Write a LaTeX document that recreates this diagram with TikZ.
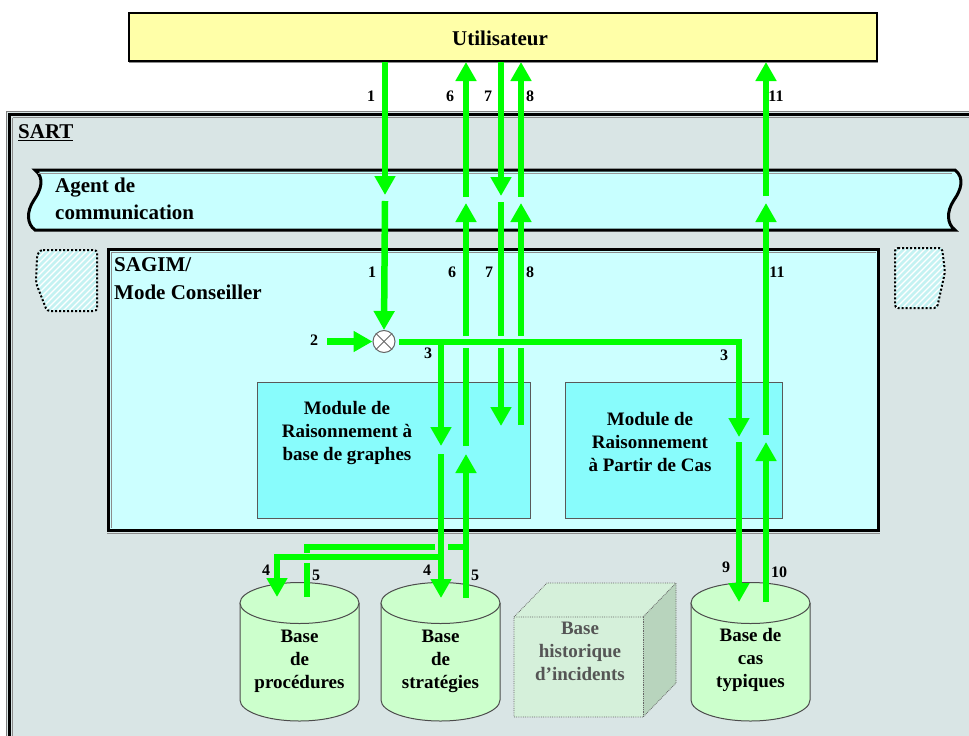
\documentclass[tikz,border=0pt]{standalone}
\usepackage{fontspec}
\setmainfont{Liberation Serif}
\usetikzlibrary{arrows.meta}
\definecolor{userfill}{HTML}{FFFFA8}
\definecolor{sartbg}{HTML}{D9E5E5}
\definecolor{agentbg}{HTML}{C8FFFF}
\definecolor{sagimbg}{HTML}{CCFFFF}
\definecolor{modbg}{HTML}{88FCFC}
\definecolor{cylfill}{HTML}{CCFFCC}
\definecolor{cubefront}{HTML}{D5F0DA}
\definecolor{cubeside}{HTML}{B8D4BD}
\definecolor{cubetext}{HTML}{555555}
\definecolor{flowgreen}{HTML}{00FF00}
\definecolor{hatchbg}{HTML}{C4F2F2}
\tikzset{
  bigtxt/.style={font=\fontsize{21}{24}\selectfont\bfseries, inner sep=0pt},
  modtxt/.style={font=\fontsize{19}{23}\selectfont\bfseries, align=center, inner sep=0pt},
  numtxt/.style={font=\fontsize{16}{18}\selectfont\bfseries, inner sep=0pt},
  flow/.style={draw=flowgreen, line width=6.5pt, line cap=butt},
  flowarrow/.style={flow, -{Triangle[width=20pt,length=19pt]}},
  modbox/.style={draw=black!65, fill=modbg, line width=1pt},
  dottedshape/.style={draw=black, line width=2pt, dash pattern=on 2pt off 2pt},
}
\begin{document}
\begin{tikzpicture}[x=1pt,y=-1pt]
\useasboundingbox (0,0) rectangle (969,736);
\fill[white] (0,0) rectangle (969,736);
\begin{scope}
\clip (0,0) rectangle (969,736);
% SART frame
\fill[sartbg] (6,111) rectangle (990,760);
\draw[black!50, line width=1pt] (6,111) -- (990,111);
\draw[black!50, line width=1pt] (6,111) -- (6,760);
\draw[black, line width=2.5pt] (9.5,114.5) rectangle (990,760);
\draw[black!45, line width=1pt] (12.5,117.5) -- (990,117.5);
\draw[black!45, line width=1pt] (12.5,117.5) -- (12.5,760);
\end{scope}
\node[bigtxt, anchor=west] (sart) at (18,133) {\underline{SART}};

% Utilisateur
\fill[black!45] (129,14) rectangle (878,63);
\node[draw=black, line width=2pt, fill=userfill, minimum width=748pt, minimum height=48pt, anchor=north west, inner sep=0pt] (userbox) at (127.5,12) {};
\node[bigtxt] (user) at (500,38) {Utilisateur};

% Agent de communication banner
\draw[black, line width=3pt, fill=agentbg]
  (35,170) -- (955,170)
  .. controls (965,178) and (961,190) .. (954,200)
  .. controls (946,212) and (947,224) .. (955,230)
  -- (35,230)
  .. controls (27,224) and (26,212) .. (34,200)
  .. controls (41,190) and (45,178) .. (35,170) -- cycle;
\draw[black!40, line width=1pt]
  (38,173.5) -- (952,173.5);
\node[bigtxt, anchor=west] (agent1) at (55,188) {Agent de};
\node[bigtxt, anchor=west] (agent2) at (55,212) {communication};

% dotted hatched shapes
\begin{scope}
\clip (40,250) -- (97,250) -- (97,311) -- (47,311) -- (36,283) -- (37,256) -- cycle;
\fill[hatchbg] (30,240) rectangle (105,320);
\foreach \i in {-60,-54,...,110} \draw[white, line width=1.3pt] (\i,320) -- (\i+80,240);
\end{scope}
\draw[dottedshape, rounded corners=3pt] (40,250) -- (97,250) -- (97,311) -- (47,311) -- (36,283) -- (37,256) -- cycle;
\begin{scope}
\clip (895,248) -- (942,248) -- (945,272) -- (937,308) -- (895,308) -- cycle;
\fill[hatchbg] (890,240) rectangle (950,315);
\foreach \i in {800,806,...,960} \draw[white, line width=1.3pt] (\i,320) -- (\i+80,240);
\end{scope}
\draw[dottedshape, rounded corners=3pt] (895,248) -- (942,248) -- (945,272) -- (937,308) -- (895,308) -- cycle;

% SAGIM box
\draw[black!45, line width=1pt] (107,533.5) -- (880,533.5);
\draw[black, line width=3pt, fill=sagimbg] (108.5,249.5) rectangle (878.5,530.5);
\draw[black!45, line width=1pt] (111,252) -- (876,252);
\draw[black!45, line width=1pt] (111,252) -- (111,528);
\node[bigtxt, anchor=west] (sagim1) at (114,265) {SAGIM/};
\node[bigtxt, anchor=west] (sagim2) at (114,292) {Mode Conseiller};

% Modules
\draw[modbox] (257.5,382.5) rectangle (530.5,518.5);
\node[modtxt] (modgraph) at (347,433) {Module de\\Raisonnement à\\base de graphes};
\draw[modbox] (565.5,382.5) rectangle (782.5,518.5);
\node[modtxt] (modcas) at (650,442) {Module de\\Raisonnement\\à Partir de Cas};

% Cylinders
\foreach \cx in {299.5, 440.5, 750.5}{
  \fill[cylfill] (\cx-59.5,603) rectangle (\cx+59.5,700);
  \draw[black!70, line width=1pt, fill=cylfill] (\cx-59.5,603) -- (\cx-59.5,700) arc[start angle=180, end angle=0, x radius=59.5, y radius=21] -- (\cx+59.5,603);
  \draw[black!70, line width=1pt, fill=cylfill] (\cx,603) ellipse[x radius=59.5, y radius=20.5];
}
\node[modtxt] (proc) at (299.5,661) {Base\\de\\procédures};
\node[modtxt] (strat) at (440.5,661) {Base\\de\\stratégies};
\node[modtxt] (cas) at (750.5,660) {Base de\\cas\\typiques};

% Cube
\fill[cubefront] (514,617) -- (547,583) -- (676,583) -- (643,617) -- cycle;
\fill[cubeside] (643,617) -- (676,583) -- (676,683) -- (643,717) -- cycle;
\fill[cubefront] (514,617) rectangle (643,717);
\draw[black!60, line width=0.8pt, densely dotted] (514,617) -- (547,583) -- (676,583) -- (676,683) -- (643,717) -- (514,717) -- cycle;
\draw[black!60, line width=0.8pt, densely dotted] (514,617) -- (643,617) -- (676,583);
\draw[black!60, line width=0.8pt, densely dotted] (643,617) -- (643,717);
\node[modtxt, text=cubetext] (hist) at (580,651) {Base\\historique\\d’incidents};

% mixing circle
\node[circle, draw=black!60, fill=white, line width=1pt, minimum size=22pt, inner sep=0pt] (mix) at (384,341.5) {};
\draw[black!60, line width=0.8pt] (mix.north west) -- (mix.south east);
\draw[black!60, line width=0.8pt] (mix.north east) -- (mix.south west);

% coordinates for flows
\coordinate (a1s) at (385,62);   \coordinate (a1m) at (385,195); \coordinate (a1n) at (385,201);
\coordinate (a2s) at (327,341.5);
\coordinate (a3s) at (399,342);  \coordinate (a3k) at (739,342); \coordinate (a3e) at (739,437);
\coordinate (a3b) at (441,342);  \coordinate (a3be) at (441,446);
\coordinate (a4s) at (441,454);  \coordinate (a4e) at (441,598);
\coordinate (a4j) at (441,557);  \coordinate (a4k) at (277,557); \coordinate (a4e2) at (277,597);
\coordinate (a5s) at (466,598);  \coordinate (a5e) at (466,454);
\coordinate (a5p) at (307,597);  \coordinate (a5q) at (307,563);
\coordinate (a5r) at (307,553);  \coordinate (a5c) at (307,547);
\coordinate (a5g) at (435,547);  \coordinate (a5h) at (448,547); \coordinate (a5i) at (466,547);
\coordinate (a6s) at (466,446);  \coordinate (a6g) at (466,348); \coordinate (a6h) at (466,336); \coordinate (a6m) at (466,203);
\coordinate (a6n) at (466,197);  \coordinate (a6e) at (466,62);
\coordinate (a7s) at (501,62);   \coordinate (a7m) at (501,196); \coordinate (a7n) at (501,202);
\coordinate (a7g) at (501,336);  \coordinate (a7h) at (501,348); \coordinate (a7e) at (501,426);
\coordinate (a8s) at (521,425);  \coordinate (a8g) at (521,348); \coordinate (a8h) at (521,336); \coordinate (a8m) at (521,203);
\coordinate (a8n) at (521,197);  \coordinate (a8e) at (521,62);
\coordinate (a9s) at (739,442);  \coordinate (a9e) at (739,602);
\coordinate (a10s) at (766,602); \coordinate (a10e) at (766,442);
\coordinate (a11s) at (766,435); \coordinate (a11m) at (766,203);
\coordinate (a11n) at (766,196); \coordinate (a11e) at (766,62);

% flows
\draw[flowarrow] (a1s) -- (a1m);
\draw[flowarrow] (a1n) -- (mix.north);
\draw[flowarrow] (a2s) -- (mix.west);
\draw[flow] (a6s) -- (a6g);
\draw[flowarrow] (a6h) -- (a6m);
\draw[flowarrow] (a6n) -- (a6e);
\draw[flowarrow] (a7s) -- (a7m);
\draw[flow] (a7n) -- (a7g);
\draw[flowarrow] (a7h) -- (a7e);
\draw[flow] (a8s) -- (a8g);
\draw[flowarrow] (a8h) -- (a8m);
\draw[flowarrow] (a8n) -- (a8e);
\draw[flowarrow, line join=miter] (a3s) -- (a3k) -- (a3e);
\draw[flowarrow] (a3b) -- (a3be);
\draw[flowarrow] (a4s) -- (a4e);
\draw[flowarrow, line join=miter] (a4j) -- (a4k) -- (a4e2);
\draw[flowarrow] (a5s) -- (a5e);
\draw[flow] (a5p) -- (a5q);
\draw[flow, line join=miter] (a5r) -- (a5c) -- (a5g);
\draw[flow] (a5h) -- (a5i);
\draw[flowarrow] (a9s) -- (a9e);
\draw[flowarrow] (a10s) -- (a10e);
\draw[flowarrow] (a11s) -- (a11m);
\draw[flowarrow] (a11n) -- (a11e);

% number labels
\node[numtxt] (l1a) at (371,96) {1};
\node[numtxt] (l6a) at (450,96) {6};
\node[numtxt] (l7a) at (488,96) {7};
\node[numtxt] (l8a) at (530,96) {8};
\node[numtxt] (l11a) at (776,96) {11};
\node[numtxt] (l1b) at (372,272) {1};
\node[numtxt] (l6b) at (452,272) {6};
\node[numtxt] (l7b) at (489,272) {7};
\node[numtxt] (l8b) at (530,272) {8};
\node[numtxt] (l11b) at (777,272) {11};
\node[numtxt] (l2) at (314,340) {2};
\node[numtxt] (l3a) at (428,353) {3};
\node[numtxt] (l3b) at (724,355) {3};
\node[numtxt] (l4a) at (266,570) {4};
\node[numtxt] (l5a) at (316,575) {5};
\node[numtxt] (l4b) at (427,570) {4};
\node[numtxt] (l5b) at (475,575) {5};
\node[numtxt] (l9) at (726,567) {9};
\node[numtxt] (l10) at (779,572) {10};
\end{tikzpicture}
\end{document}
